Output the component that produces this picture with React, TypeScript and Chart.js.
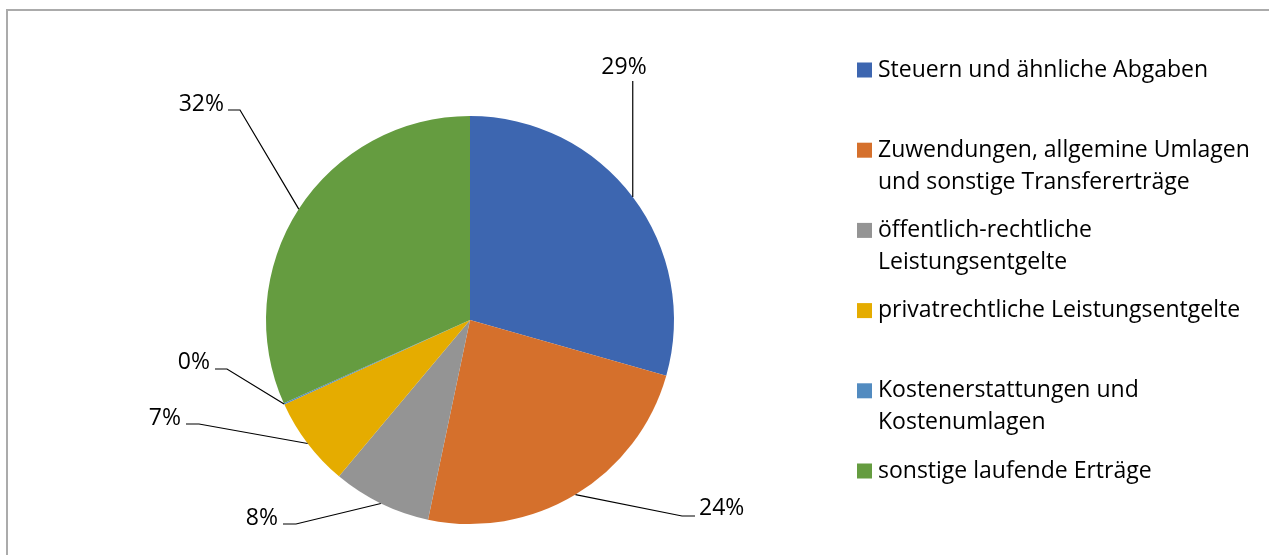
import React, { useEffect, useRef } from "react";
import { Chart, registerables } from "chart.js";

Chart.register(...registerables);

const categories = [
  "Steuern und ähnliche Abgaben",
  "Zuwendungen, allgemine Umlagen und sonstige Transfererträge",
  "öffentlich-rechtliche Leistungsentgelte",
  "privatrechtliche Leistungsentgelte",
  "Kostenerstattungen und Kostenumlagen",
  "sonstige laufende Erträge",
];

const legendLines = [
  ["Steuern und ähnliche Abgaben"],
  ["Zuwendungen, allgemine Umlagen", "und sonstige Transfererträge"],
  ["öffentlich-rechtliche", "Leistungsentgelte"],
  ["privatrechtliche Leistungsentgelte"],
  ["Kostenerstattungen und", "Kostenumlagen"],
  ["sonstige laufende Erträge"],
];

const shares = [29.4, 23.9, 7.8, 7.1, 0.1, 31.7];

const colors = ["#3d66b0", "#d5702c", "#949494", "#e5ac00", "#528bc0", "#659c40"];

const FONT = "'Open Sans', 'Noto Sans', sans-serif";

// label layout: text anchor + leader elbow points (canvas px)
const LABEL_LAYOUT: { tx: number; ty: number; align: CanvasTextAlign; pts: number[][] }[] = [
  { tx: 624, ty: 67, align: "center", pts: [[-1, 81]] },
  { tx: 699, ty: 508, align: "left", pts: [[695, 516], [682, 516]] },
  { tx: 278, ty: 518, align: "right", pts: [[283, 524], [296, 524]] },
  { tx: 181, ty: 418, align: "right", pts: [[186, 424], [199, 424]] },
  { tx: 210, ty: 362, align: "right", pts: [[215, 369], [227, 369]] },
  { tx: 224, ty: 104, align: "right", pts: [[228, 110], [240, 110]] },
];

const decorPlugin = {
  id: "decor",
  beforeDraw(chart: any) {
    const ctx = chart.ctx;
    ctx.save();
    ctx.fillStyle = "#ffffff";
    ctx.fillRect(0, 0, chart.width, chart.height);
    ctx.fillStyle = "#ababab";
    ctx.fillRect(6, 9, 2, chart.height);
    ctx.fillRect(6, 9, chart.width, 2);
    ctx.restore();
  },
  afterDraw(chart: any) {
    const ctx = chart.ctx;
    const meta = chart.getDatasetMeta(0);
    const data = chart.data.datasets[0].data as number[];
    const total = data.reduce((a, b) => a + b, 0);
    ctx.save();
    ctx.strokeStyle = "#000";
    ctx.lineWidth = 1.2;
    ctx.fillStyle = "#000";
    ctx.font = `23px ${FONT}`;
    ctx.textBaseline = "middle";
    meta.data.forEach((arc: any, i: number) => {
      const p = arc.getProps(["x", "y", "startAngle", "endAngle", "outerRadius"], true);
      const mid = (p.startAngle + p.endAngle) / 2;
      const ax = p.x + Math.cos(mid) * p.outerRadius;
      const ay = p.y + Math.sin(mid) * p.outerRadius;
      const lay = LABEL_LAYOUT[i];
      ctx.beginPath();
      lay.pts.forEach((pt, k) => {
        const px = pt[0] < 0 ? ax : pt[0];
        if (k === 0) ctx.moveTo(px, pt[1]);
        else ctx.lineTo(px, pt[1]);
      });
      ctx.lineTo(ax, ay);
      ctx.stroke();
      ctx.textAlign = lay.align;
      ctx.fillText(Math.round((data[i] / total) * 100) + "%", lay.tx, lay.ty);
    });

    // legend
    ctx.textAlign = "left";
    categories.forEach((_c, i) => {
      const y = 70 + i * 80.2;
      ctx.fillStyle = colors[i];
      ctx.fillRect(857, y - 7.5, 15, 15);
      ctx.fillStyle = "#000";
      legendLines[i].forEach((line, k) => {
        ctx.fillText(line, 878, y + k * 32);
      });
    });
    ctx.restore();
  },
};

export default function App() {
  const ref = useRef<HTMLCanvasElement>(null);
  useEffect(() => {
    if (!ref.current) return;
    const chart = new Chart(ref.current, {
      type: "pie",
      data: {
        labels: categories,
        datasets: [
          {
            data: shares,
            backgroundColor: colors,
            borderWidth: 0,
          },
        ],
      },
      options: {
        animation: false,
        responsive: false,
        layout: { padding: { left: 266, right: 595, top: 116, bottom: 31 } },
        plugins: {
          legend: { display: false },
          tooltip: { enabled: false },
        },
      },
      plugins: [decorPlugin],
    });
    return () => chart.destroy();
  }, []);
  return (
    <div style={{ position: "fixed", left: 0, top: 0, width: 1269, height: 555, background: "#fff" }}>
      <canvas ref={ref} width={1269} height={555} style={{ width: 1269, height: 555, display: "block" }} />
    </div>
  );
}
